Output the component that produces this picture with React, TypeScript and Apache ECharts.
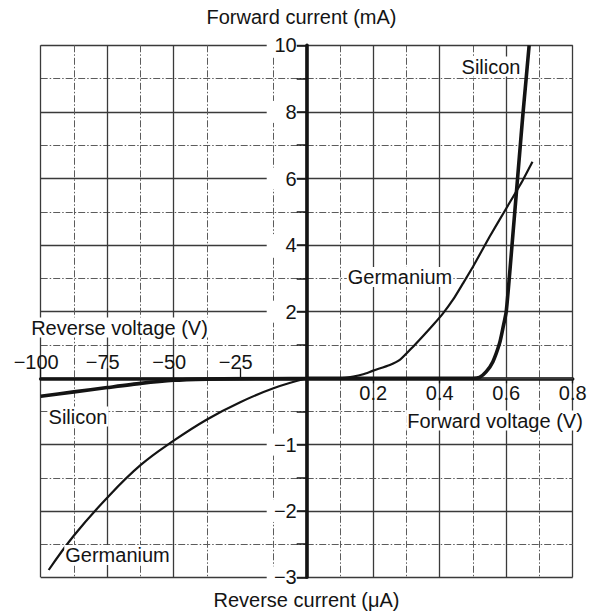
import { useEffect, useRef } from "react";
import * as echarts from "echarts";

// Axis extents for the four quadrants of the diode characteristic
const reverseVoltageRange = [-100, 0]; // V
const forwardVoltageRange = [0, 0.8]; // V
const forwardCurrentRange = [0, 10]; // mA
const reverseCurrentRange = [-3, 0]; // µA

// Silicon, forward bias (V, mA)
const siliconForwardV = [0, 0.1, 0.2, 0.3, 0.4, 0.5, 0.52, 0.54, 0.56, 0.58, 0.59, 0.6, 0.61, 0.62, 0.63, 0.64, 0.65, 0.66, 0.669];
const siliconForwardI = [0, 0, 0, 0, 0, 0, 0.03, 0.2, 0.5, 1.05, 1.5, 2.0, 3.1, 4.3, 5.5, 6.7, 7.9, 9.0, 10.0];

// Germanium, forward bias (V, mA)
const germaniumForwardV = [0, 0.1, 0.14, 0.17, 0.2, 0.25, 0.28, 0.32, 0.35, 0.38, 0.41, 0.44, 0.47, 0.5, 0.55, 0.6, 0.65, 0.679];
const germaniumForwardI = [0, 0, 0.05, 0.12, 0.23, 0.4, 0.55, 0.95, 1.27, 1.6, 1.95, 2.36, 2.85, 3.35, 4.25, 5.1, 5.95, 6.5];

// Silicon, reverse bias (V, µA)
const siliconReverseV = [-100, -87.5, -75, -62.5, -50, -37.5, -25, -12.5, 0];
const siliconReverseI = [-0.27, -0.205, -0.14, -0.077, -0.03, -0.012, -0.005, -0.002, 0];

// Germanium, reverse bias (V, µA)
const germaniumReverseV = [-97, -87.5, -75, -62.5, -50, -37.5, -25, -12.5, 0];
const germaniumReverseI = [-2.89, -2.37, -1.8, -1.31, -0.94, -0.62, -0.36, -0.15, 0];

const FONT = '"Liberation Sans", Arial, Helvetica, sans-serif';
const INK = "#141414";
const SOLID = "#3a3a3a";
const DASH = "#5c5c5c";

// Plot frame: outer edges and the origin
const X0 = 40.7;
const XO = 306.7;
const X1 = 572.7;
const Y0 = 45.3;
const YO = 378.3;
const Y1 = 577.3;

const zip = (xs: number[], ys: number[]) => xs.map((x, i) => [x, ys[i]]);
const signed = (v: number) => String(v).replace("-", "\u2212");

const solidSplit = { show: true, lineStyle: { color: SOLID, width: 1.3 } };
// the -25 V rule is absent on the reverse side
const leftSolidSplit = {
  show: true,
  lineStyle: { color: [SOLID, SOLID, SOLID, "rgba(0,0,0,0)", SOLID], width: 1.3 },
};
const dashSplit = { show: true, lineStyle: { color: DASH, width: 1, type: [7, 2, 1.5, 2] } };
const thickLine = { show: true, lineStyle: { color: INK, width: 3.6 } };
const labelText = { fontFamily: FONT, fontSize: 20, color: INK };

const hiddenAxisParts = {
  axisLine: { show: false },
  axisTick: { show: false },
  axisLabel: { show: false },
  minorTick: { show: false, splitNumber: 2 },
  minorSplitLine: dashSplit,
};

// current labels sit in a white box that interrupts the reverse-side rules
const yLabel = {
  margin: 10,
  align: "right",
  rich: {
    b: {
      ...labelText,
      width: 30,
      align: "right",
      backgroundColor: "#fff",
      padding: [1, 0, 1, 0],
    },
  },
};

function App() {
  const ref = useRef<HTMLDivElement>(null);

  useEffect(() => {
    const chart = echarts.init(ref.current!, null, { renderer: "svg" });

    const grids = [
      { left: X0, top: Y0, width: XO - X0, height: YO - Y0 },
      { left: XO, top: Y0, width: X1 - XO, height: YO - Y0 },
      { left: X0, top: YO, width: XO - X0, height: Y1 - YO },
      { left: XO, top: YO, width: X1 - XO, height: Y1 - YO },
    ];

    const text = (t: string, x: number, y: number) => ({
      type: "text",
      x,
      y,
      z: 10,
      style: {
        text: t,
        font: `20px ${FONT}`,
        fill: INK,
        align: "center",
        verticalAlign: "middle",
        backgroundColor: "#fff",
        padding: [0, 1, 0, 1],
      },
    });

    chart.setOption({
      animation: false,
      backgroundColor: "#fff",
      grid: grids,
      xAxis: [
        {
          type: "value",
          gridIndex: 0,
          min: reverseVoltageRange[0],
          max: reverseVoltageRange[1],
          interval: 25,
          position: "bottom",
          axisLine: thickLine,
          axisTick: { show: true, inside: true, length: 10, lineStyle: { color: INK, width: 1.3 } },
          axisLabel: { ...labelText, inside: true, margin: 6, showMaxLabel: false, formatter: signed, padding: [0, 9, 0, 0] },
          splitLine: leftSolidSplit,
          minorTick: { show: false, splitNumber: 2 },
          minorSplitLine: dashSplit,
        },
        {
          type: "value",
          gridIndex: 1,
          min: forwardVoltageRange[0],
          max: forwardVoltageRange[1],
          interval: 0.2,
          position: "bottom",
          axisLine: thickLine,
          axisTick: { show: true, length: 5, lineStyle: { color: INK, width: 1.3 } },
          axisLabel: { ...labelText, margin: 5, showMinLabel: false, formatter: (v: number) => v.toFixed(1) },
          splitLine: solidSplit,
          minorTick: { show: false, splitNumber: 2 },
          minorSplitLine: dashSplit,
        },
        {
          type: "value",
          gridIndex: 2,
          min: reverseVoltageRange[0],
          max: reverseVoltageRange[1],
          interval: 25,
          position: "top",
          splitLine: leftSolidSplit,
          ...hiddenAxisParts,
        },
        {
          type: "value",
          gridIndex: 3,
          min: forwardVoltageRange[0],
          max: forwardVoltageRange[1],
          interval: 0.2,
          position: "top",
          splitLine: solidSplit,
          ...hiddenAxisParts,
        },
      ],
      yAxis: [
        {
          type: "value",
          gridIndex: 0,
          min: forwardCurrentRange[0],
          max: forwardCurrentRange[1],
          interval: 2,
          position: "right",
          splitLine: solidSplit,
          ...hiddenAxisParts,
        },
        {
          type: "value",
          gridIndex: 1,
          min: forwardCurrentRange[0],
          max: forwardCurrentRange[1],
          interval: 2,
          position: "left",
          z: 5,
          axisLine: thickLine,
          axisTick: { show: true, length: 10, lineStyle: { color: INK, width: 1.5 } },
          minorTick: { show: true, splitNumber: 2, length: 10, lineStyle: { color: INK, width: 1.5 } },
          axisLabel: { ...yLabel, showMinLabel: false, formatter: (v: number) => `{b|${v}}` },
          splitLine: solidSplit,
          minorSplitLine: dashSplit,
        },
        {
          type: "value",
          gridIndex: 2,
          min: reverseCurrentRange[0],
          max: reverseCurrentRange[1],
          interval: 1,
          position: "right",
          splitLine: solidSplit,
          ...hiddenAxisParts,
        },
        {
          type: "value",
          gridIndex: 3,
          min: reverseCurrentRange[0],
          max: reverseCurrentRange[1],
          interval: 1,
          position: "left",
          z: 5,
          axisLine: thickLine,
          axisTick: { show: true, length: 10, lineStyle: { color: INK, width: 1.5 } },
          minorTick: { show: true, splitNumber: 2, length: 10, lineStyle: { color: INK, width: 1.5 } },
          axisLabel: { ...yLabel, showMaxLabel: false, formatter: (v: number) => `{b|${signed(v)}}` },
          splitLine: solidSplit,
          minorSplitLine: dashSplit,
        },
      ],
      series: [
        {
          name: "Silicon forward",
          type: "line",
          xAxisIndex: 1,
          yAxisIndex: 1,
          z: 6,
          showSymbol: false,
          smooth: 0.2,
          lineStyle: { color: INK, width: 3.6 },
          data: zip(siliconForwardV, siliconForwardI),
        },
        {
          name: "Germanium forward",
          type: "line",
          xAxisIndex: 1,
          yAxisIndex: 1,
          z: 6,
          showSymbol: false,
          smooth: 0.2,
          lineStyle: { color: INK, width: 2.2 },
          data: zip(germaniumForwardV, germaniumForwardI),
        },
        {
          name: "Silicon reverse",
          type: "line",
          xAxisIndex: 2,
          yAxisIndex: 2,
          z: 6,
          showSymbol: false,
          smooth: 0.2,
          lineStyle: { color: INK, width: 3.6 },
          data: zip(siliconReverseV, siliconReverseI),
        },
        {
          name: "Germanium reverse",
          type: "line",
          xAxisIndex: 2,
          yAxisIndex: 2,
          z: 6,
          showSymbol: false,
          smooth: 0.4,
          lineStyle: { color: INK, width: 2.2 },
          data: zip(germaniumReverseV, germaniumReverseI),
        },
      ],
      graphic: [
        text("Forward current (mA)", 301.5, 17),
        text("Reverse current (\u03bcA)", 306.5, 600),
        text("Reverse voltage (V)", 119.5, 327.5),
        text("Forward voltage (V)", 495, 420.5),
        text("Silicon", 491, 66.5),
        text("Germanium", 400, 277),
        text("Silicon", 78, 416.5),
        text("Germanium", 117.5, 555),
      ],
    });

    return () => chart.dispose();
  }, []);

  return (
    <div
      ref={ref}
      style={{ position: "absolute", left: 0, top: 0, width: 592, height: 612 }}
    />
  );
}

export default App;
